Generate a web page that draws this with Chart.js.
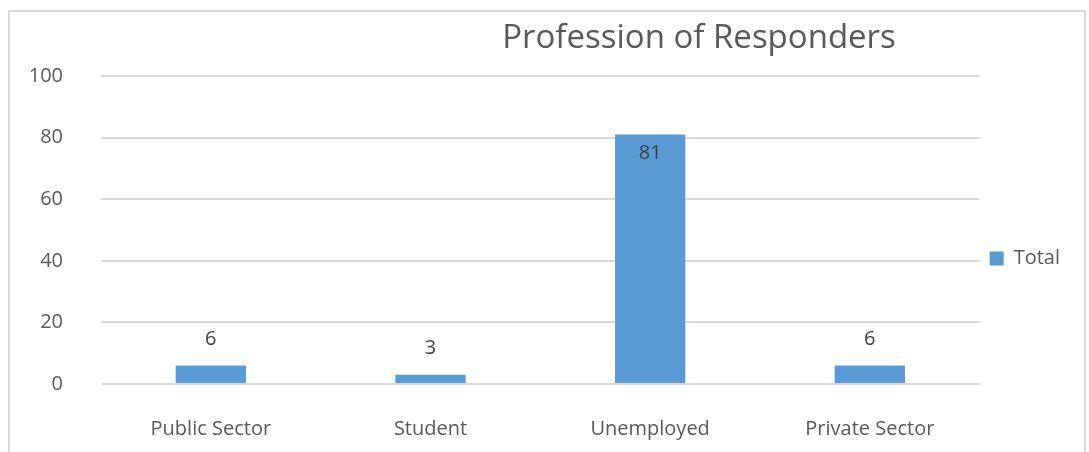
<!DOCTYPE html>
<html>
<head>
<meta charset="utf-8">
<script src="https://cdn.jsdelivr.net/npm/chart.js@4"></script>
<style>
  html, body { margin: 0; padding: 0; background: #fff; }
  #wrap {
    position: absolute; left: 8px; top: 10px;
    width: 1074px; height: 441px;
    border-left: 2px solid #d9d9d9; border-top: 2px solid #d9d9d9; border-right: 2px solid #d9d9d9;
  }
</style>
</head>
<body>
<div id="wrap"><canvas id="myChart"></canvas></div>
<script>
const CATEGORIES = ['Public Sector', 'Student', 'Unemployed', 'Private Sector'];
const TOTALS = [6, 3, 81, 6];
const Y_TICKS = [0, 20, 40, 60, 80, 100];
const TITLE = 'Profession of Responders';

const FONT = '"Open Sans", sans-serif';
const GREY = '#595959';

// value labels: inside the top for tall bars, above for short ones
const valueLabels = {
  id: 'valueLabels',
  afterDatasetsDraw(chart) {
    const ctx = chart.ctx;
    const meta = chart.getDatasetMeta(0);
    ctx.save();
    ctx.font = '20px ' + FONT;
    ctx.fillStyle = '#404040';
    ctx.textAlign = 'center';
    ctx.textBaseline = 'middle';
    meta.data.forEach((bar, i) => {
      const h = bar.base - bar.y;
      const y = h > 40 ? bar.y + 19 : bar.y - 26;
      ctx.fillText(String(TOTALS[i]), bar.x, y);
    });
    ctx.restore();
  }
};

// title sits right of centre in the original
const offsetTitle = {
  id: 'offsetTitle',
  afterDraw(chart) {
    const ctx = chart.ctx;
    ctx.save();
    ctx.font = '33px ' + FONT;
    ctx.fillStyle = GREY;
    ctx.textAlign = 'center';
    ctx.textBaseline = 'middle';
    ctx.fillText(TITLE, 689, 27);
    ctx.restore();
  }
};

const config = {
  type: 'bar',
  data: {
    labels: CATEGORIES,
    datasets: [{
      label: 'Total',
      data: TOTALS,
      backgroundColor: '#5b9bd5',
      borderWidth: 0,
      barPercentage: 0.32,
      categoryPercentage: 1
    }]
  },
  options: {
    responsive: true,
    maintainAspectRatio: false,
    animation: false,
    layout: { padding: { top: 64, bottom: 12, right: 14 } },
    scales: {
      y: {
        min: 0,
        max: 100,
        afterBuildTicks: (axis) => { axis.ticks = Y_TICKS.map(v => ({ value: v })); },
        afterFit: (axis) => { axis.width = 91; },
        ticks: { color: GREY, font: { size: 20, family: FONT }, padding: 38 },
        grid: { color: '#d9d9d9', lineWidth: 2, drawTicks: false },
        border: { display: false }
      },
      x: {
        afterFit: (axis) => { axis.height = 57; },
        ticks: { color: GREY, font: { size: 20, family: FONT }, padding: 33, maxRotation: 0 },
        grid: { display: false, drawTicks: false },
        border: { display: false }
      }
    },
    plugins: {
      title: { display: false },
      tooltip: { enabled: false },
      legend: {
        position: 'right',
        labels: {
          color: GREY,
          font: { size: 20, family: FONT },
          boxWidth: 14,
          boxHeight: 14,
          padding: 10
        }
      }
    }
  },
  plugins: [valueLabels, offsetTitle]
};

function buildChart() {
  const ctx = document.getElementById('myChart').getContext('2d');
  return new Chart(ctx, config);
}

window.addEventListener('load', () => {
  const myChart = buildChart();
});
</script>
</body>
</html>
